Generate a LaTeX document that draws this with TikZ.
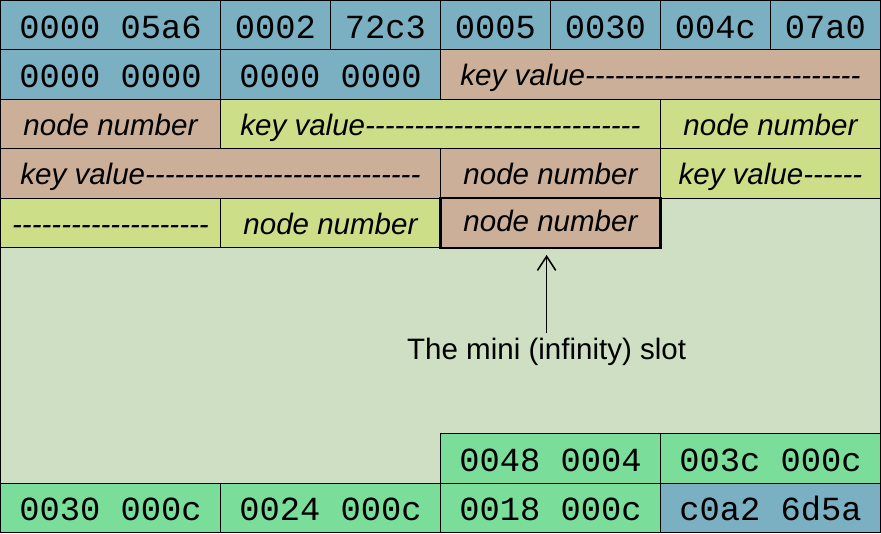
\documentclass[tikz,border=0pt]{standalone}
\usepackage{fontspec}
\usetikzlibrary{arrows.meta}
\newfontfamily\hexfont{Liberation Mono}
\newfontfamily\labfont{Liberation Sans}
\definecolor{hexblue}{RGB}{122,176,194}
\definecolor{keytan}{RGB}{203,175,153}
\definecolor{keyyellow}{RGB}{205,222,136}
\definecolor{freebg}{RGB}{207,223,196}
\definecolor{hdrgreen}{RGB}{122,222,154}
\def\cw{2.75cm}
\def\rh{1.2375cm}

\begin{document}
\begin{tikzpicture}[x=\cw,y=-\rh,
    cell/.style={draw=black,line width=0.6pt,anchor=north west,inner sep=0pt,outer sep=0pt,
      minimum height=\rh,minimum width=#1*\cw},
    hex/.style={cell=#1,font=\fontsize{24}{28}\selectfont\hexfont,text height=20pt,text depth=1.6pt},
    lab/.style={cell=#1,font=\fontsize{21}{25}\selectfont\labfont\itshape,text height=17pt,text depth=1.4pt}]
  \useasboundingbox (-0.004,-0.008) rectangle (8.005,10.76);
  \fill[freebg,draw=black,line width=0.6pt] (0,0) rectangle (8,10.75);

  % header words
  \node[hex=2,fill=hexblue] (h1) at (0,0) {0000 05a6};
  \node[hex=1,fill=hexblue] (h2) at (2,0) {0002};
  \node[hex=1,fill=hexblue] (h3) at (3,0) {72c3};
  \node[hex=1,fill=hexblue] (h4) at (4,0) {0005};
  \node[hex=1,fill=hexblue] (h5) at (5,0) {0030};
  \node[hex=1,fill=hexblue] (h6) at (6,0) {004c};
  \node[hex=1,fill=hexblue] (h7) at (7,0) {07a0};
  \node[hex=2,fill=hexblue] (h8) at (0,1) {0000 0000};
  \node[hex=2,fill=hexblue] (h9) at (2,1) {0000 0000};

  % keys and node numbers
  \node[lab=4,fill=keytan] (k1) at (4,1) {key value----------------------------};
  \node[lab=2,fill=keytan] (n1) at (0,2) {node number};
  \node[lab=4,fill=keyyellow] (k2) at (2,2) {key value----------------------------};
  \node[lab=2,fill=keyyellow] (n2) at (6,2) {node number};
  \node[lab=4,fill=keytan] (k3) at (0,3) {key value----------------------------};
  \node[lab=2,fill=keytan] (n3) at (4,3) {node number};
  \node[lab=2,fill=keyyellow] (k4) at (6,3) {key value------};
  \node[lab=2,fill=keyyellow] (k5) at (0,4) {--------------------};
  \node[lab=2,fill=keyyellow] (n4) at (2,4) {node number};
  \node[lab=2,fill=keytan,line width=1.5pt,text depth=5pt] (slot) at (4,4) {node number};

  % offsets at the end of the page
  \node[hex=2,fill=hdrgreen] (o1) at (4,8.75) {0048 0004};
  \node[hex=2,fill=hdrgreen] (o2) at (6,8.75) {003c 000c};
  \node[hex=2,fill=hdrgreen] (o3) at (0,9.75) {0030 000c};
  \node[hex=2,fill=hdrgreen] (o4) at (2,9.75) {0024 000c};
  \node[hex=2,fill=hdrgreen] (o5) at (4,9.75) {0018 000c};
  \node[hex=2,fill=hexblue] (o6) at (6,9.75) {c0a2 6d5a};

  \node[font=\fontsize{21}{25}\selectfont\labfont] (mini) at (4.965,7.103) {The mini (infinity) slot};
  \draw[-{Straight Barb[length=10pt,width=13pt]},line width=1.1pt,shorten >=5pt] (mini.north) -- (mini.north |- slot.south);
\end{tikzpicture}
\end{document}
